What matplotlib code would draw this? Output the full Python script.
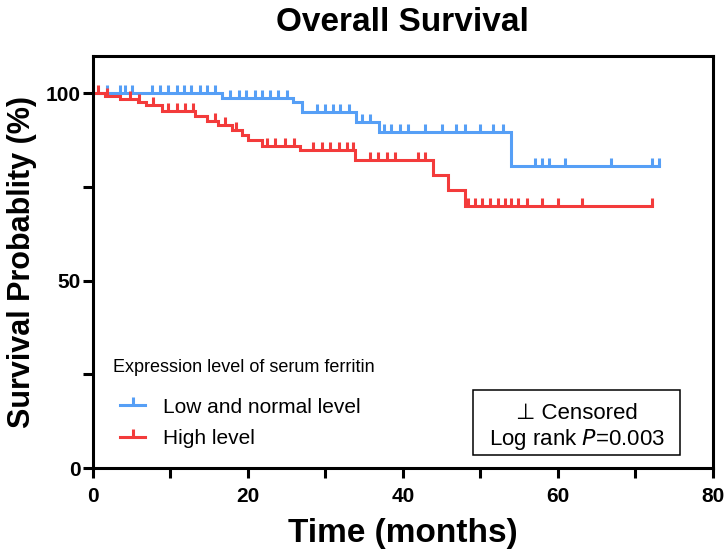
import matplotlib
matplotlib.use('Agg')
import matplotlib.pyplot as plt
from matplotlib.lines import Line2D
from matplotlib.patches import Rectangle

plt.rcParams['font.family'] = ['Liberation Sans', 'DejaVu Sans']

# 생존 곡선 데이터
low_times = [0, 16.6, 25.8, 27.0, 34.0, 36.9, 54.0, 73.1]
low_surv = [100, 98.9, 97.7, 95.1, 92.4, 89.7, 80.6, 80.6]
low_censor = [1.8, 3.5, 4.1, 5.0, 7.6, 8.6, 9.7, 10.8, 11.7, 12.7, 13.8, 14.7, 15.7,
              17.7, 18.8, 19.8, 20.9, 21.8, 22.8, 23.9, 25.0, 28.9, 29.9, 31.0, 31.9,
              33.0, 34.7, 35.7, 37.5, 38.5, 39.6, 40.7, 42.8, 45.0, 46.9, 48.0, 50.0,
              51.6, 52.9, 57.0, 57.9, 58.9, 60.9, 66.9, 72.1, 73.1]

high_times = [0, 1.5, 3.5, 5.8, 6.9, 8.9, 13.2, 14.7, 16.2, 17.9, 19.2, 20.0, 21.8,
              26.7, 33.8, 43.9, 45.8, 48.0, 72.1]
high_surv = [100, 99.2, 98.5, 97.7, 96.9, 95.4, 94.0, 92.6, 91.5, 90.2, 88.8, 87.5,
             86.1, 84.8, 82.1, 78.1, 74.1, 70.0, 70.0]
high_censor = [0.7, 1.8, 4.8, 5.9, 7.8, 9.7, 10.8, 11.9, 12.9, 15.7, 17.0, 18.5, 22.4,
               23.5, 24.8, 25.9, 28.4, 29.5, 30.6, 31.7, 32.8, 33.6, 35.7, 36.8, 37.9,
               39.0, 42.0, 42.8, 48.4, 49.3, 50.2, 51.2, 52.3, 53.2, 54.0, 54.9, 56.0,
               57.9, 60.0, 63.1, 72.1]

low_color = '#569ff6'
high_color = '#f33b3b'


def surv_at(times, surv, t):
    # 계단 함수에서 t 시점의 생존율
    val = surv[0]
    for ti, si in zip(times, surv):
        if ti <= t:
            val = si
    return val


fig = plt.figure(figsize=(7.26, 5.51), dpi=100)
ax = fig.add_axes([0.128, 0.1506, 0.854, 0.7478])

for times, surv, cens, color in [(low_times, low_surv, low_censor, low_color),
                                  (high_times, high_surv, high_censor, high_color)]:
    ax.step(times, surv, where='post', color=color, lw=2.2, solid_joinstyle='miter')
    cy = [surv_at(times, surv, c) for c in cens]
    ax.plot(cens, cy, ls='none', marker=2, ms=6, mew=2.2, color=color)

ax.set_xlim(0, 80)
ax.set_ylim(0, 110)
ax.set_xticks([0, 20, 40, 60, 80])
ax.set_xticks([10, 30, 50, 70], minor=True)
ax.set_yticks([0, 50, 100])
ax.set_yticks([25, 75], minor=True)
for s in ax.spines.values():
    s.set_linewidth(2.2)
ax.tick_params(which='both', direction='out', length=7, width=2.2)
ax.tick_params(which='major', labelsize=15)
ax.tick_params(axis='x', which='major', pad=7)
ax.tick_params(axis='y', which='major', pad=2)
for lab in ax.get_xticklabels() + ax.get_yticklabels():
    lab.set_fontweight('bold')

ax.set_title('Overall Survival', fontsize=24, fontweight='bold', pad=18)
ax.set_xlabel('Time (months)', fontsize=24, fontweight='bold', labelpad=8)
ax.set_ylabel('Survival Probablity (%)', fontsize=22, fontweight='bold', labelpad=6)

# 범례 (제목은 따로 텍스트로)
ax.text(0.032, 0.245, 'Expression level of serum ferritin', transform=ax.transAxes,
        ha='left', va='center', fontsize=13)
handles = [Line2D([], [], color=low_color, lw=2.2, marker=2, ms=6, mew=2.2),
           Line2D([], [], color=high_color, lw=2.2, marker=2, ms=6, mew=2.2)]
leg = ax.legend(handles, ['Low and normal level', 'High level'],
                fontsize=15, frameon=False, loc='lower left',
                bbox_to_anchor=(0.014, 0.003), handlelength=1.2, handletextpad=0.85,
                labelspacing=0.6)

# 검열 표시 / log rank 박스
ax.add_patch(Rectangle((0.613, 0.032), 0.334, 0.157, transform=ax.transAxes,
                       fc='white', ec='black', lw=1.1, zorder=3))
ax.text(0.78, 0.098, '\u22a5 Censored\nLog rank $\\it{P}$=0.003', transform=ax.transAxes,
        ha='center', va='center', fontsize=16, linespacing=1.2, zorder=4)

fig.savefig('out.png', dpi=100)
